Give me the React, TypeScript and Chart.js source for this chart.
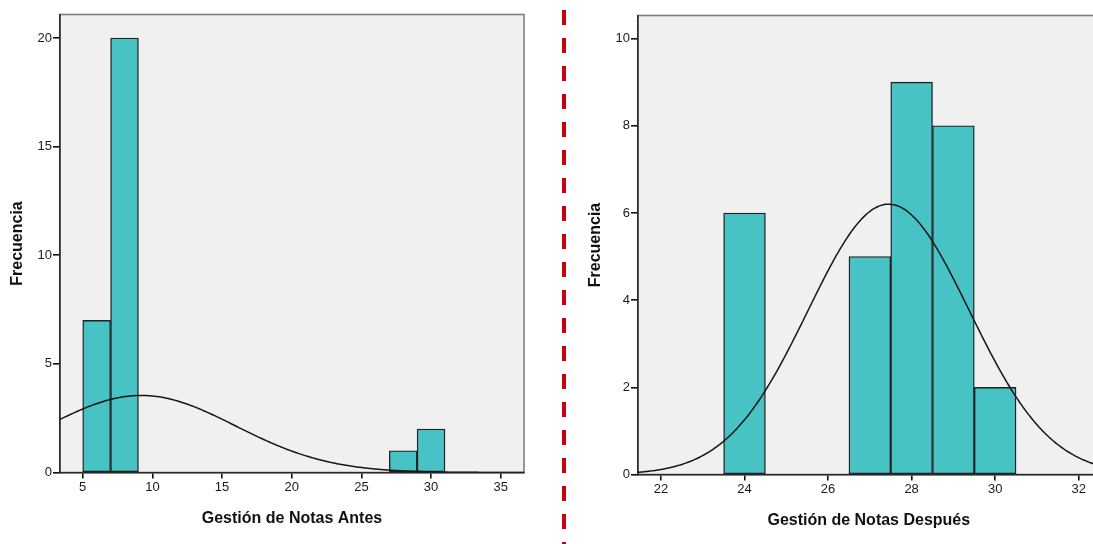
import React, { useEffect, useRef } from "react";
import { Chart, registerables } from "chart.js";

Chart.register(...registerables);

// ---- Left histogram: Gestión de Notas Antes ----
const leftBinCenters = [6, 8, 28, 30];
const leftCounts = [7, 20, 1, 2];
const leftXTicks = [5, 10, 15, 20, 25, 30, 35];
const leftYTicks = [0, 5, 10, 15, 20];
const leftXRange = [3.37, 36.67];
const leftYMax = 21.08;
const leftMean = 9.2;
const leftSd = 6.75;
const leftN = 30;
const leftBinWidth = 2;

// ---- Right histogram: Gestión de Notas Después ----
const rightBinCenters = [24, 27, 28, 29, 30];
const rightCounts = [6, 5, 9, 8, 2];
const rightXTicks = [22, 24, 26, 28, 30, 32];
const rightYTicks = [0, 2, 4, 6, 8, 10];
const rightXRange = [21.45, 32.5];
const rightYMax = 10.53;
const rightMean = 27.45;
const rightSd = 1.93;
const rightN = 30;
const rightBinWidth = 1;

const FONT = "'Liberation Sans', Arial, sans-serif";

function normalCurve(mean: number, sd: number, n: number, bw: number, xmin: number, xmax: number) {
  const pts: { x: number; y: number }[] = [];
  const steps = 300;
  const k = (n * bw) / (sd * Math.sqrt(2 * Math.PI));
  for (let i = 0; i <= steps; i++) {
    const x = xmin + ((xmax - xmin) * i) / steps;
    const z = (x - mean) / sd;
    pts.push({ x, y: k * Math.exp(-0.5 * z * z) });
  }
  return pts;
}

const framePlugin = {
  id: "frame",
  beforeDraw(chart: any) {
    const { ctx, chartArea: a } = chart;
    ctx.save();
    ctx.fillStyle = "#f0f0f0";
    ctx.fillRect(a.left, a.top, a.right - a.left, a.bottom - a.top);
    ctx.strokeStyle = "#7d7d7d";
    ctx.lineWidth = 1.6;
    ctx.strokeRect(a.left, a.top, a.right - a.left, a.bottom - a.top);
    ctx.restore();
  },
};

type Params = {
  centers: number[];
  counts: number[];
  xTicks: number[];
  yTicks: number[];
  xRange: number[];
  yMax: number;
  mean: number;
  sd: number;
  n: number;
  bw: number;
  xTitle: string;
  yAxisWidth: number;
  xAxisHeight: number;
  padTop: number;
  padRight: number;
  yTitlePad: number;
  xTitlePad: number;
};

function makeConfig(p: Params): any {
  const tickFont = { family: FONT, size: 13 };
  const titleFont = { family: FONT, size: 16, weight: "bold" as const };
  return {
    type: "bar",
    data: {
      datasets: [
        {
          type: "line",
          order: 0,
          data: normalCurve(p.mean, p.sd, p.n, p.bw, p.xRange[0], p.xRange[1]),
          borderColor: "#161616",
          borderWidth: 1.5,
          pointRadius: 0,
          fill: false,
          tension: 0,
        },
        {
          type: "bar",
          order: 1,
          data: p.centers.map((c, i) => ({ x: c, y: p.counts[i] })),
          backgroundColor: "#47c2c5",
          borderColor: "#222222",
          borderWidth: 1.4,
          borderSkipped: false,
          barPercentage: 1,
          categoryPercentage: 1,
        },
      ],
    },
    options: {
      responsive: false,
      animation: false,
      devicePixelRatio: 1,
      layout: { padding: { top: p.padTop, right: p.padRight, bottom: 0, left: 0 } },
      plugins: { legend: { display: false }, tooltip: { enabled: false } },
      scales: {
        x: {
          type: "linear",
          min: p.xRange[0],
          max: p.xRange[1],
          offset: false,
          afterBuildTicks: (s: any) => {
            s.ticks = p.xTicks.map((v) => ({ value: v }));
          },
          afterFit: (s: any) => {
            s.height = p.xAxisHeight;
          },
          grid: {
            display: true,
            drawOnChartArea: false,
            drawTicks: true,
            tickLength: 6,
            color: "#111",
            lineWidth: 1.6,
            offset: false,
          },
          border: { display: true, color: "#2a2a2a", width: 1.6 },
          ticks: { font: tickFont, color: "#1a1a1a", padding: 1, autoSkip: false, maxRotation: 0 },
          title: {
            display: true,
            text: p.xTitle,
            font: titleFont,
            color: "#111",
            padding: { top: 0, bottom: p.xTitlePad },
          },
        },
        y: {
          type: "linear",
          min: 0,
          max: p.yMax,
          afterBuildTicks: (s: any) => {
            s.ticks = p.yTicks.map((v) => ({ value: v }));
          },
          afterFit: (s: any) => {
            s.width = p.yAxisWidth;
          },
          grid: {
            display: true,
            drawOnChartArea: false,
            drawTicks: true,
            tickLength: 7,
            color: "#111",
            lineWidth: 1.6,
          },
          border: { display: true, color: "#2a2a2a", width: 1.6 },
          ticks: { font: tickFont, color: "#1a1a1a", padding: 1 },
          title: {
            display: true,
            text: "Frecuencia",
            font: titleFont,
            color: "#111",
            padding: { top: p.yTitlePad, bottom: 0 },
          },
        },
      },
    },
    plugins: [framePlugin],
  };
}

function Histogram(props: { params: Params; left: number; width: number }) {
  const ref = useRef<HTMLCanvasElement | null>(null);
  useEffect(() => {
    if (!ref.current) return;
    const chart = new Chart(ref.current, makeConfig(props.params));
    return () => chart.destroy();
  }, []);
  return (
    <canvas
      ref={ref}
      width={props.width}
      height={544}
      style={{ position: "absolute", left: props.left, top: 0, width: props.width, height: 544 }}
    />
  );
}

const leftParams: Params = {
  centers: leftBinCenters,
  counts: leftCounts,
  xTicks: leftXTicks,
  yTicks: leftYTicks,
  xRange: leftXRange,
  yMax: leftYMax,
  mean: leftMean,
  sd: leftSd,
  n: leftN,
  bw: leftBinWidth,
  xTitle: "Gestión de Notas Antes",
  yAxisWidth: 60,
  xAxisHeight: 71.5,
  padTop: 14.5,
  padRight: 21,
  yTitlePad: 8.4,
  xTitlePad: 16,
};

const rightParams: Params = {
  centers: rightBinCenters,
  counts: rightCounts,
  xTicks: rightXTicks,
  yTicks: rightYTicks,
  xRange: rightXRange,
  yMax: rightYMax,
  mean: rightMean,
  sd: rightSd,
  n: rightN,
  bw: rightBinWidth,
  xTitle: "Gestión de Notas Después",
  yAxisWidth: 78,
  xAxisHeight: 69.5,
  padTop: 15.5,
  padRight: 5.4,
  yTitlePad: 26.4,
  xTitlePad: 13.5,
};

export default function App() {
  return (
    <div
      style={{
        position: "fixed",
        left: 0,
        top: 0,
        width: 1093,
        height: 544,
        overflow: "hidden",
        background: "#ffffff",
      }}
    >
      <Histogram params={leftParams} left={0} width={545} />
      <Histogram params={rightParams} left={560} width={545} />
      <div
        style={{
          position: "absolute",
          left: 562,
          top: 10,
          width: 4,
          height: 534,
          background: "repeating-linear-gradient(to bottom, #c8000a 0px, #c8000a 15px, transparent 15px, transparent 28px)",
        }}
      />
    </div>
  );
}
